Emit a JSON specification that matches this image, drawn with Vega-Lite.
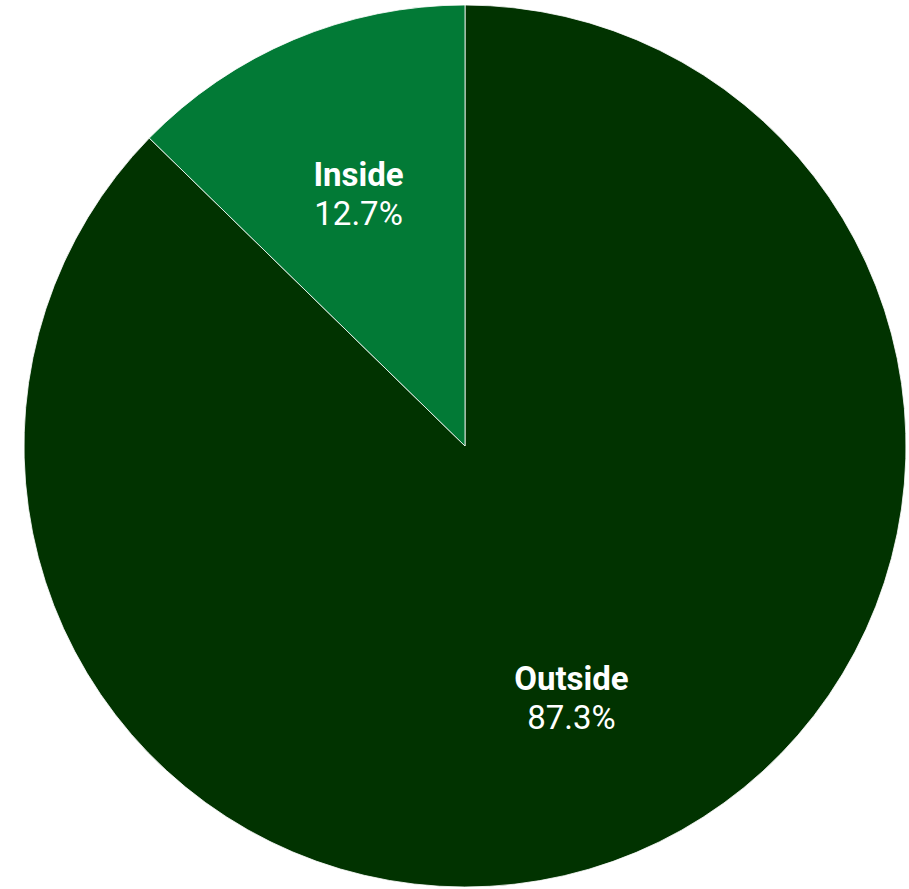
{
  "$schema": "https://vega.github.io/schema/vega-lite/v6.json",
  "autosize": "none",
  "padding": {"left": 21, "top": 0, "right": 0, "bottom": 0},
  "width": 888,
  "height": 892,
  "background": "#ffffff",
  "config": {"view": {"stroke": null}},
  "data": {"values": [
    {"location": "Outside", "value": 0.873},
    {"location": "Inside", "value": 0.127}
  ]},
  "encoding": {
    "theta": {"field": "value", "type": "quantitative", "stack": true},
    "order": {"field": "value", "type": "quantitative", "sort": "descending"}
  },
  "layer": [
    {
      "mark": {"type": "arc", "outerRadius": 441, "stroke": "#ffffff", "strokeWidth": 1, "strokeOpacity": 0.8},
      "encoding": {
        "color": {"field": "location", "type": "nominal",
          "scale": {"domain": ["Outside", "Inside"], "range": ["#013300", "#027a36"]},
          "legend": null}
      }
    },
    {
      "mark": {"type": "text", "radius": 274, "dy": -18, "font": "Roboto", "fontSize": 33, "fontWeight": "bold", "fill": "#ffffff", "baseline": "middle", "align": "center"},
      "encoding": {"text": {"field": "location", "type": "nominal"}}
    },
    {
      "mark": {"type": "text", "radius": 274, "dy": 21, "font": "Roboto", "fontSize": 33, "fill": "#ffffff", "baseline": "middle", "align": "center"},
      "encoding": {"text": {"field": "value", "type": "quantitative", "format": ".1%"}}
    }
  ]
}
